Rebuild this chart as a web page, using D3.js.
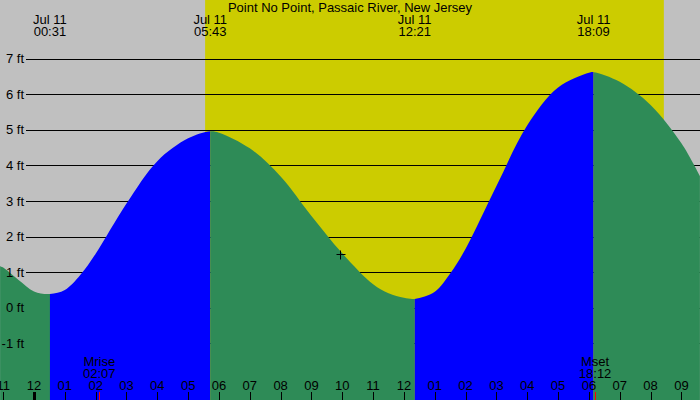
<!DOCTYPE html>
<html>
<head>
<meta charset="utf-8">
<script src="https://cdn.jsdelivr.net/npm/d3@7"></script>
<style>
  body { margin: 0; overflow: hidden; background: #fff; }
  text { font-family: "Liberation Sans", Arial, sans-serif; font-size: 13px; fill: #000; }
</style>
</head>
<body>
<div id="tideChart"></div>
<script>
// chart data (hours from Jul 11 00:00, heights in ft)
const title = "Point No Point, Passaic River, New Jersey";
const tideHours = [-1.10, -1, -0.5, 0, 0.517, 1, 1.5, 2, 3, 4, 5, 5.717, 6, 7, 8, 9, 10, 11, 11.5, 12, 12.35, 13, 13.5, 14, 15, 16, 17, 18, 18.15, 19, 20, 21, 21.6];
const tideFeet  = [1.17, 1.13, 0.78, 0.46, 0.39, 0.50, 0.92, 1.52, 2.93, 4.12, 4.76, 4.96, 4.92, 4.48, 3.69, 2.58, 1.53, 0.66, 0.41, 0.28, 0.25, 0.45, 0.96, 1.66, 3.42, 5.13, 6.19, 6.60, 6.62, 6.35, 5.70, 4.62, 3.70];

const extremeHours = [0.517, 5.717, 12.35, 18.15];
const extremeKinds = ["low", "high", "low", "high"];
const extremeDates = ["Jul 11", "Jul 11", "Jul 11", "Jul 11"];
const extremeTimes = ["00:31", "05:43", "12:21", "18:09"];

const sunHours = [5.55, 20.43];          // daylight band
const moonHours = [2.117, 18.2];
const moonNames = ["Mrise", "Mset"];
const moonTimes = ["02:07", "18:12"];

const feetTicks = [-1, 0, 1, 2, 3, 4, 5, 6, 7];
const hourTicks = [-1, 0, 1, 2, 3, 4, 5, 6, 7, 8, 9, 10, 11, 12, 13, 14, 15, 16, 17, 18, 19, 20, 21];
const hourLabels = ["11", "12", "01", "02", "03", "04", "05", "06", "07", "08", "09", "10",
                    "11", "12", "01", "02", "03", "04", "05", "06", "07", "08", "09"];

const markerHour = 9.93, markerFeet = 1.52;

const width = 700, height = 400;

const svg = d3.select("#tideChart")
  .append("svg")
  .attr("width", width)
  .attr("height", height);

const x = d3.scaleLinear()
  .domain([-1.103, 21.603])
  .range([0, width]);

const y = d3.scaleLinear()
  .domain([-2.59, 8.646])
  .range([height, 0]);

// night background + daylight band
svg.append("rect")
  .attr("x", 0).attr("y", 0)
  .attr("width", width).attr("height", height)
  .style("fill", "#c0c0c0");
svg.append("rect")
  .attr("x", x(sunHours[0])).attr("y", 0)
  .attr("width", x(sunHours[1]) - x(sunHours[0]))
  .attr("height", height)
  .style("fill", "#cccc00");

// grid lines (under the water)
svg.append("g")
  .selectAll("line")
  .data(feetTicks)
  .enter()
  .append("line")
    .attr("x1", 26).attr("x2", width)
    .attr("y1", d => Math.round(y(d)) + 0.5)
    .attr("y2", d => Math.round(y(d)) + 0.5)
    .attr("stroke", "#000")
    .attr("stroke-width", 1);

// tide area, coloured by rising / falling
const pts = tideHours.map((h, i) => ({ h: h, ft: tideFeet[i] }));
const area = d3.area()
  .x(d => x(d.h))
  .y0(height)
  .y1(d => y(d.ft))
  .curve(d3.curveCatmullRom.alpha(0.5));

const bounds = [x.domain()[0]].concat(extremeHours, [x.domain()[1]]);
for (let i = 0; i < bounds.length - 1; i++) {
  // before a low the water falls, after a low it rises
  const nextKind = i < extremeKinds.length ? extremeKinds[i] : (extremeKinds[i - 1] === "low" ? "high" : "low");
  const fill = nextKind === "low" ? "#2e8b57" : "#0000ff";
  svg.append("clipPath")
    .attr("id", "seg" + i)
    .append("rect")
      .attr("x", x(bounds[i]))
      .attr("y", 0)
      .attr("width", x(bounds[i + 1]) - x(bounds[i]))
      .attr("height", height);
  svg.append("path")
    .datum(pts)
    .attr("d", area)
    .attr("fill", fill)
    .attr("clip-path", "url(#seg" + i + ")");
}

// y labels
svg.append("g")
  .selectAll("text")
  .data(feetTicks)
  .enter()
  .append("text")
    .attr("x", 24)
    .attr("y", d => y(d))
    .attr("dy", "0.35em")
    .attr("text-anchor", "end")
    .text(d => d + " ft");

// title
svg.append("text")
  .attr("x", width / 2)
  .attr("y", 12)
  .attr("text-anchor", "middle")
  .text(title);

// high / low labels at top
const ext = svg.append("g")
  .selectAll("g")
  .data(extremeHours)
  .enter()
  .append("g");
ext.append("text")
  .attr("x", d => x(d))
  .attr("y", 24)
  .attr("text-anchor", "middle")
  .text((d, i) => extremeDates[i]);
ext.append("text")
  .attr("x", d => x(d))
  .attr("y", 36)
  .attr("text-anchor", "middle")
  .text((d, i) => extremeTimes[i]);

// hour axis at bottom
svg.append("g")
  .selectAll("line")
  .data(hourTicks)
  .enter()
  .append("line")
    .attr("x1", d => Math.round(x(d)) + 0.5)
    .attr("x2", d => Math.round(x(d)) + 0.5)
    .attr("y1", 392).attr("y2", height)
    .attr("stroke", "#000")
    .attr("stroke-width", d => d % 24 === 0 ? 3 : 1);
svg.append("g")
  .selectAll("text")
  .data(hourTicks)
  .enter()
  .append("text")
    .attr("x", d => x(d))
    .attr("y", 390)
    .attr("text-anchor", "middle")
    .text((d, i) => hourLabels[i]);

// moon rise / set
const moon = svg.append("g")
  .selectAll("g")
  .data(moonHours)
  .enter()
  .append("g");
moon.append("line")
  .attr("x1", d => Math.round(x(d)) + 0.5)
  .attr("x2", d => Math.round(x(d)) + 0.5)
  .attr("y1", 392).attr("y2", height)
  .attr("stroke", "#ff0000");
moon.append("text")
  .attr("x", d => x(d))
  .attr("y", 366)
  .attr("text-anchor", "middle")
  .text((d, i) => moonNames[i]);
moon.append("text")
  .attr("x", d => x(d))
  .attr("y", 378)
  .attr("text-anchor", "middle")
  .text((d, i) => moonTimes[i]);

// current-time cross
const cx = Math.round(x(markerHour)) + 0.5, cy = Math.round(y(markerFeet)) + 0.5;
svg.append("line")
  .attr("x1", cx - 4).attr("x2", cx + 5)
  .attr("y1", cy).attr("y2", cy)
  .attr("stroke", "#000");
svg.append("line")
  .attr("x1", cx).attr("x2", cx)
  .attr("y1", cy - 4).attr("y2", cy + 5)
  .attr("stroke", "#000");
</script>
</body>
</html>
